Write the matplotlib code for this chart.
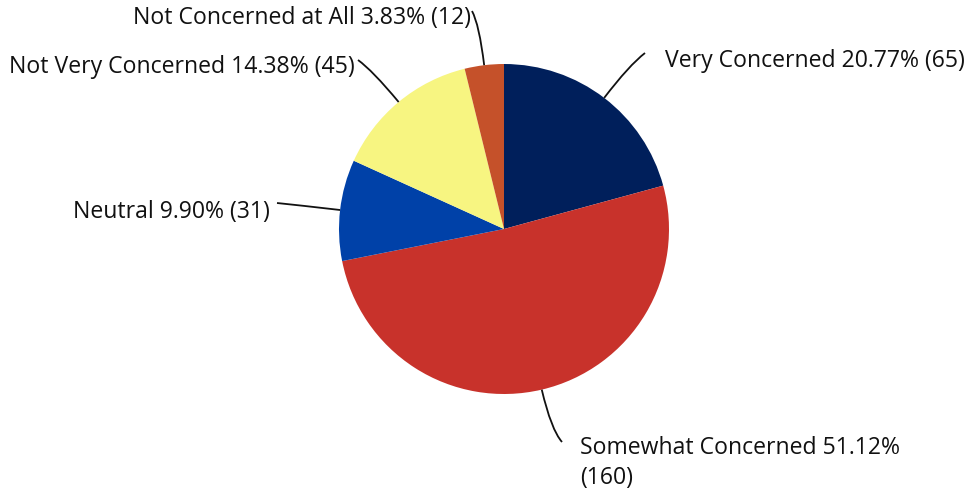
import matplotlib.pyplot as plt
import numpy as np
from matplotlib.path import Path
from matplotlib.patches import PathPatch

plt.rcParams['font.family'] = ['Open Sans', 'DejaVu Sans']

labels = ['Very Concerned', 'Somewhat Concerned', 'Neutral',
          'Not Very Concerned', 'Not Concerned at All']
counts = [65, 160, 31, 45, 12]
colors = ['#001f5b', '#c8322b', '#0041a8', '#f7f581', '#c5512a']

# pixel geometry of the figure
W, H = 972, 490
cx, cy, R = 504, 229, 165

def d(px, py):
    # pixel -> data (pie radius = 1)
    return (px - cx) / R, (cy - py) / R

# label text anchor (pixel), leader end (pixel), alignment
lab_pos = [(665, 61), (580, 463), (270, 212), (355, 67), (471, 18)]
lead_end = [(645, 53), (562, 442), (277, 203), (358, 60), (472, 11)]
ha = ['left', 'left', 'right', 'right', 'right']

fig = plt.figure(figsize=(W / 100, H / 100), dpi=100)
ax = fig.add_axes([0, 0, 1, 1])

wedges, _ = ax.pie(counts, colors=colors, startangle=90, counterclock=False,
                   radius=1, center=(0, 0), frame=True)
ax.set_aspect('equal')
ax.axis('off')
ax.set_xlim(-cx / R, (W - cx) / R)
ax.set_ylim((cy - H) / R, cy / R)

total = sum(counts)
start = 0
for i, c in enumerate(counts):
    mid = np.radians(start + c / total * 360 / 2)
    start += c / total * 360
    ux, uy = np.sin(mid), np.cos(mid)
    p0 = (ux, uy)
    p1 = (1.25 * ux, 1.25 * uy)
    p2 = d(*lead_end[i])
    path = Path([p0, p1, p2], [Path.MOVETO, Path.CURVE3, Path.CURVE3])
    ax.add_patch(PathPatch(path, fc='none', ec='#111111', lw=1.3))
    pct = c / total * 100
    if i == 1:
        txt = f'{labels[i]} {pct:.2f}%\n({c})'
    else:
        txt = f'{labels[i]} {pct:.2f}% ({c})'
    tx, ty = d(*lab_pos[i])
    ax.text(tx, ty, txt, ha=ha[i], va='center', fontsize=16.6, color='#111111',
            linespacing=1.28)

plt.savefig('out.png', dpi=100)
